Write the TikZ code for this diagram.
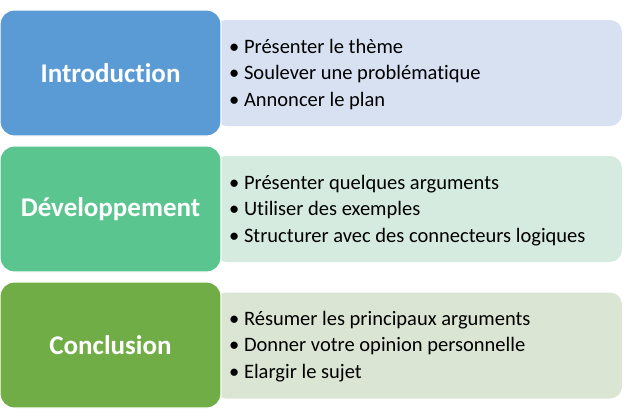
\documentclass[tikz,border=0pt]{standalone}
\usepackage{fontspec}
\setmainfont[Ligatures={NoCommon,NoDiscretionary}]{Carlito}
\definecolor{bA}{HTML}{5B9BD5}
\definecolor{bB}{HTML}{D7E1F2}
\definecolor{gA}{HTML}{5BC58F}
\definecolor{gB}{HTML}{D5EBE0}
\definecolor{cA}{HTML}{70AD47}
\definecolor{cB}{HTML}{DAE5D3}
\begin{document}
\begin{tikzpicture}[x=1pt,y=-1pt,
  headbox/.style={draw=white,line width=1.2pt,rounded corners=14pt,minimum width=221pt,minimum height=126pt,inner sep=0pt,
     font=\fontsize{27}{30}\selectfont\bfseries,text=white},
  listbox/.style={rounded corners=12pt,minimum width=408pt,minimum height=106pt,inner sep=0pt},
  items/.style={font=\fontsize{20.5}{26.5}\selectfont,align=left,anchor=west,inner sep=0pt}]
\useasboundingbox (0,0) rectangle (624,415);
% row 1
\node[listbox,fill=bB] (l1) at (418,73) {};
\node[headbox,fill=bA] (h1) at (110.5,73) {Introduction};
\node[items] (t1) at (229,74.5) {• Présenter le thème\\• Soulever une problématique\\• Annoncer le plan};
% row 2
\node[listbox,fill=gB] (l2) at (418,209) {};
\node[headbox,fill=gA] (h2) at (110.5,209) {Développement};
\node[items] (t2) at (229,210.5) {• Présenter quelques arguments\\• Utiliser des exemples\\• Structurer avec des connecteurs logiques};
% row 3
\node[listbox,fill=cB] (l3) at (418,345.5) {};
\node[headbox,fill=cA] (h3) at (110.5,345) {Conclusion};
\node[items] (t3) at (229,346.5) {• Résumer les principaux arguments\\• Donner votre opinion personnelle\\• Elargir le sujet};
\end{tikzpicture}
\end{document}
